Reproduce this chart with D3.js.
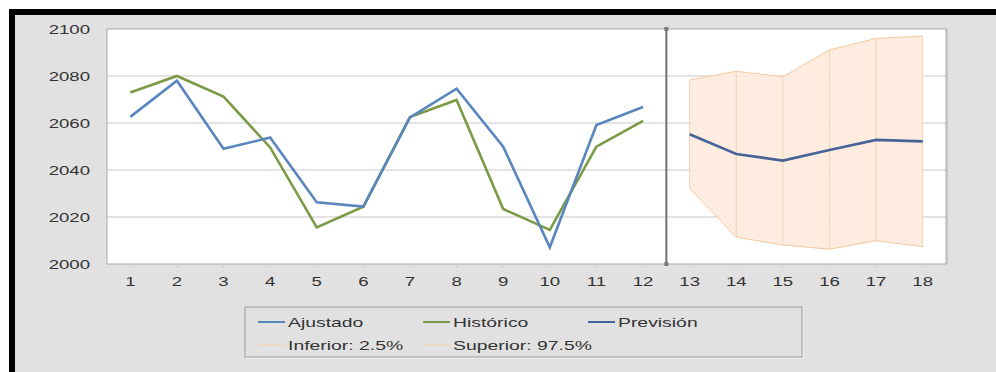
<!DOCTYPE html>
<html><head><meta charset="utf-8">
<script src="https://cdn.jsdelivr.net/npm/d3@7"></script>
<style>
body{margin:0;background:#fff;}
svg{display:block;font-family:"Liberation Sans",Arial,sans-serif;}
</style></head>
<body><svg id="c" width="996" height="372"></svg>
<script>
const categories = [1,2,3,4,5,6,7,8,9,10,11,12,13,14,15,16,17,18];
const histCats = [1,2,3,4,5,6,7,8,9,10,11,12];
const fcCats = [13,14,15,16,17,18];
const ajustado = [2062.6,2078,2049,2053.8,2026.3,2024.4,2062.4,2074.6,2049.9,2007.1,2059.1,2066.8];
const historico = [2073,2080,2071.2,2049.6,2015.6,2024.4,2062.5,2069.8,2023.4,2014.5,2049.9,2060.9];
const prevision = [2055.2,2046.8,2044,2048.5,2052.8,2052.2];
const inferior = [2032.2,2011.4,2008.1,2006.3,2009.9,2007.4];
const superior = [2078.3,2082,2079.7,2091.1,2096,2097];
const yTicks = [2000,2020,2040,2060,2080,2100];
const legendItems = [
  {name:"Ajustado", color:"#5a86be", w:2},
  {name:"Histórico", color:"#7b9a45", w:2},
  {name:"Previsión", color:"#46639a", w:2},
  {name:"Inferior: 2.5%", color:"#f6cfa8", w:1},
  {name:"Superior: 97.5%", color:"#f6cfa8", w:1}
];

const svg = d3.select("#c");
const SX = 1.55;
// background frame
svg.append("rect").attr("x",9).attr("y",9).attr("width",990).attr("height",370).attr("fill","#e1e1e1");
svg.append("rect").attr("x",9).attr("y",9).attr("width",990).attr("height",6).attr("fill","#000");
svg.append("rect").attr("x",9).attr("y",9).attr("width",6).attr("height",370).attr("fill","#000");

const L=107, R=946, T=29, B=264;
const x = d3.scaleBand().domain(categories).range([L,R]);
const cx = d => x(d) + x.bandwidth()/2;
const y = d3.scaleLinear().domain([2000,2100]).range([B,T]);

svg.append("rect").attr("x",L).attr("y",T).attr("width",R-L).attr("height",B-T).attr("fill","#fff");
// gridlines
svg.append("g").selectAll("line").data(yTicks.slice(1,5)).join("line")
  .attr("x1",L).attr("x2",R).attr("y1",d=>y(d)).attr("y2",d=>y(d))
  .attr("stroke","#c9c9c9").attr("stroke-width",1);

// forecast band
const band = fcCats.map((c,i)=>({c,lo:inferior[i],hi:superior[i]}));
svg.append("path").datum(band)
  .attr("d", d3.area().x(d=>cx(d.c)).y0(d=>y(d.lo)).y1(d=>y(d.hi)))
  .attr("fill","#fdeadb").attr("opacity",0.9);
svg.append("g").selectAll("line").data(band).join("line")
  .attr("x1",d=>cx(d.c)).attr("x2",d=>cx(d.c)).attr("y1",d=>y(d.lo)).attr("y2",d=>y(d.hi))
  .attr("stroke","#f3d3b4").attr("stroke-width",1);
["lo","hi"].forEach(k=>{
  svg.append("path").datum(band)
    .attr("d", d3.line().x(d=>cx(d.c)).y(d=>y(d[k])))
    .attr("fill","none").attr("stroke","#f5c9a0").attr("stroke-width",1);
});

// plot border
svg.append("rect").attr("x",L).attr("y",T).attr("width",R-L).attr("height",B-T)
  .attr("fill","none").attr("stroke","#a8a8a8").attr("stroke-width",1);
svg.append("line").attr("x1",R+1).attr("x2",R+1).attr("y1",T).attr("y2",B)
  .attr("stroke","#c4c4c4").attr("stroke-width",2);

// divider
const xd = x(13);
svg.append("line").attr("x1",xd).attr("x2",xd).attr("y1",T).attr("y2",B)
  .attr("stroke","#6f6f6f").attr("stroke-width",2);
[T,B].forEach(v=>svg.append("rect").attr("x",xd-2).attr("y",v-2).attr("width",4).attr("height",4).attr("fill","#7a7a7a"));

// series
const line = d3.line().x(d=>cx(d[0])).y(d=>y(d[1]));
svg.append("path").datum(histCats.map((c,i)=>[c,historico[i]]))
  .attr("d",line).attr("fill","none").attr("stroke","#7b9a45").attr("stroke-width",2.6);
svg.append("path").datum(histCats.map((c,i)=>[c,ajustado[i]]))
  .attr("d",line).attr("fill","none").attr("stroke","#5a86be").attr("stroke-width",2.6);
svg.append("path").datum(fcCats.map((c,i)=>[c,prevision[i]]))
  .attr("d",line).attr("fill","none").attr("stroke","#46639a").attr("stroke-width",2.6);

// axes
const yAxis = svg.append("g").attr("transform",`translate(${L},0)`)
  .call(d3.axisLeft(y).tickValues(yTicks).tickFormat(d3.format("d")).tickSize(0).tickPadding(0));
yAxis.select(".domain").remove();
yAxis.selectAll("text").attr("x",0).attr("dy","0.35em")
  .attr("transform",`translate(-17,0) scale(${SX},1)`)
  .attr("font-size",12).attr("fill","#333").attr("font-family","Liberation Sans, Arial, sans-serif");

const xAxis = svg.append("g").attr("transform",`translate(0,${B})`)
  .call(d3.axisBottom(x).tickValues(categories).tickSize(4).tickPadding(0));
xAxis.select(".domain").remove();
xAxis.selectAll("line").attr("stroke","#cfcfcf");
xAxis.selectAll("text").attr("y",0).attr("dy",0)
  .attr("transform",`translate(0,22) scale(${SX},1)`)
  .attr("font-size",12).attr("fill","#333").attr("font-family","Liberation Sans, Arial, sans-serif");

// legend
const lg = svg.append("g");
lg.append("rect").attr("x",246).attr("y",308).attr("width",557).attr("height",50)
  .attr("fill","none").attr("stroke","#f6f6f6").attr("stroke-width",1);
lg.append("rect").attr("x",245).attr("y",307).attr("width",557).attr("height",50)
  .attr("fill","#e1e1e1").attr("stroke","#9d9d9d").attr("stroke-width",1);
const pos = [[258,322],[423,322],[588,322],[258,345],[423,345]];
legendItems.forEach((it,i)=>{
  const [lx,ly]=pos[i];
  lg.append("line").attr("x1",lx).attr("x2",lx+27).attr("y1",ly).attr("y2",ly)
    .attr("stroke",it.color).attr("stroke-width",it.w);
  lg.append("text").attr("transform",`translate(${lx+30},${ly+4.5}) scale(${SX},1)`)
    .attr("font-size",12.5).attr("fill","#333").text(it.name);
});
</script></body></html>
